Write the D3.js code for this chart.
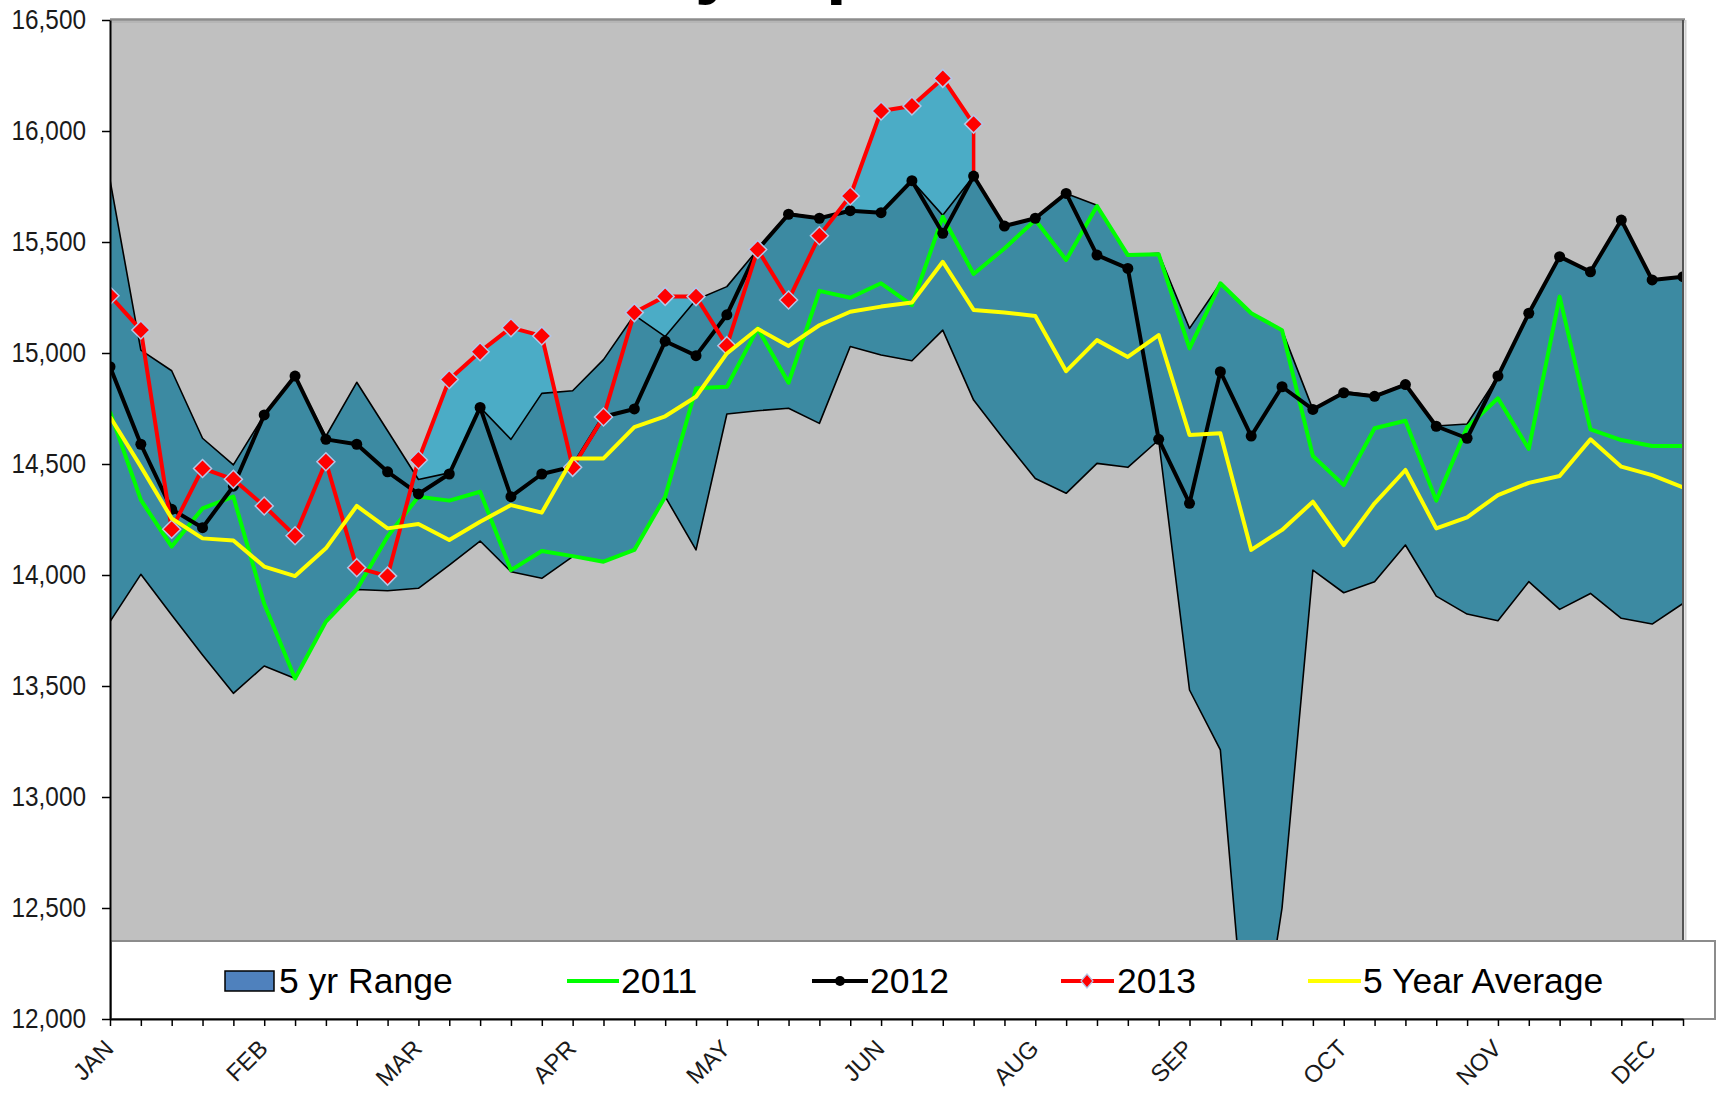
<!DOCTYPE html>
<html>
<head>
<meta charset="utf-8">
<script src="https://cdn.jsdelivr.net/npm/d3@7"></script>
<style>
  html, body { margin: 0; padding: 0; background: #fff; }
  svg { display: block; font-family: "Liberation Sans", Arial, sans-serif; }
</style>
</head>
<body>
<svg id="chart" width="1717" height="1093"></svg>
<script>
// weekly values, 52 weeks (Jan..Dec)
const monthLabels = ["JAN", "FEB", "MAR", "APR", "MAY", "JUN", "AUG", "SEP", "OCT", "NOV", "DEC"];
const monthWeeks = [0, 5, 10, 15, 20, 25, 30, 35, 40, 45, 50];
const yTicks = [12000, 12500, 13000, 13500, 14000, 14500, 15000, 15500, 16000, 16500];

const rangeMax = [15780, 15013, 14920, 14616, 14496, 14721, 14896, 14625, 14868, 14650,
  14430, 14460, 14755, 14611, 14818, 14830, 14970, 15171, 15074, 15240,
  15299, 15466, 15630, 15607, 15641, 15632, 15776, 15620, 15797, 15572,
  15607, 15719, 15665, 15441, 15449, 15111, 15314, 15179, 15103, 14746,
  14826, 14808, 14860, 14671, 14680, 14896, 15179, 15434, 15366, 15599,
  15329, 15344];
const rangeMin = [13790, 14003, 13820, 13640, 13467, 13590, 13534, 13790, 13935, 13929,
  13940, 14045, 14153, 14015, 13985, 14083, 14060, 14113, 14353, 14113,
  14725, 14740, 14751, 14683, 15029, 14991, 14965, 15103, 14788, 14608,
  14435, 14368, 14503, 14485, 14608, 13482, 13212, 11600, 12500, 14022,
  13920, 13970, 14135, 13905, 13824, 13794, 13970, 13845, 13917, 13805,
  13779, 13872];
const y2011 = [14736, 14338, 14128, 14300, 14353, 13870, 13534, 13790, 13935, 14173,
  14353, 14335, 14375, 14022, 14108, 14085, 14060, 14113, 14353, 14841,
  14848, 15111, 14866, 15280, 15249, 15314, 15216, 15614, 15356, 15471,
  15599, 15419, 15662, 15441, 15445, 15021, 15314, 15179, 15103, 14536,
  14405, 14661, 14695, 14335, 14665, 14796, 14568, 15254, 14656, 14608,
  14581, 14581];
const y2012 = [14938, 14589, 14296, 14213, 14400, 14721, 14896, 14611, 14589, 14465,
  14365, 14455, 14755, 14353, 14455, 14488, 14713, 14748, 15053, 14988,
  15172, 15466, 15625, 15607, 15641, 15632, 15776, 15539, 15797, 15572,
  15607, 15719, 15441, 15381, 14611, 14323, 14916, 14626, 14848, 14746,
  14821, 14805, 14858, 14670, 14616, 14896, 15179, 15434, 15366, 15599,
  15329, 15344];
const y2013 = [15258, 15104, 14206, 14480, 14431, 14311, 14177, 14510, 14033, 13995,
  14518, 14881, 15006, 15114, 15077, 14485, 14712, 15182, 15255, 15254,
  15033, 15466, 15239, 15528, 15707, 16090, 16113, 16237, 16031];
const avg5 = [14713, 14488, 14255, 14165, 14155, 14038, 13995, 14120, 14311, 14210,
  14230, 14158, 14240, 14315, 14281, 14525, 14525, 14666, 14715, 14803,
  14998, 15109, 15032, 15125, 15186, 15209, 15227, 15411, 15194, 15182,
  15167, 14918, 15058, 14982, 15081, 14631, 14638, 14113, 14203, 14330,
  14135, 14323, 14473, 14210, 14260, 14360, 14415, 14446, 14611, 14488,
  14450, 14395];

const W = 1717, H = 1093;
const pL = 110, pR = 1683, pT = 20, pB = 1019;

const svg = d3.select("#chart");
svg.append("rect").attr("width", W).attr("height", H).attr("fill", "#fff");

const x = d3.scaleLinear().domain([0, 51]).range([pL, pR]);
const y = d3.scaleLinear().domain([12000, 16500]).range([pB, pT]);

// title sits mostly above the picture, only descenders show (as in the source)
svg.append("text")
  .attr("x", 433)
  .attr("y", -11)
  .attr("font-size", 76)
  .attr("font-weight", "bold")
  .attr("fill", "#000")
  .text("Refinery Inputs");

svg.append("clipPath").attr("id", "plotclip")
  .append("rect")
  .attr("x", pL).attr("y", pT)
  .attr("width", pR - pL).attr("height", pB - pT);

const plot = svg.append("g").attr("clip-path", "url(#plotclip)");

plot.append("rect")
  .attr("x", pL).attr("y", pT)
  .attr("width", pR - pL).attr("height", pB - pT)
  .attr("fill", "#c0c0c0");

// 2013 area (light blue), shows where 2013 is above the range
const area2013 = d3.area()
  .x((d, i) => x(i))
  .y0(y(12000))
  .y1(d => y(d));
plot.append("path")
  .datum(y2013)
  .attr("d", area2013)
  .attr("fill", "#4bacc6");

const last = y2013.length - 1;
plot.append("line")
  .attr("x1", x(last)).attr("x2", x(last))
  .attr("y1", y(y2013[last])).attr("y2", y(12000))
  .attr("stroke", "#ff0000")
  .attr("stroke-width", 3.5);

// mask below the range with the background grey
plot.append("path")
  .datum(rangeMin)
  .attr("d", d3.area().x((d, i) => x(i)).y0(y(11000)).y1(d => y(d)))
  .attr("fill", "#c0c0c0");

// 5 yr range band
const band = d3.area()
  .x((d, i) => x(i))
  .y0((d, i) => y(rangeMin[i]))
  .y1(d => y(d));
plot.append("path")
  .datum(rangeMax)
  .attr("d", band)
  .attr("fill", "#3c8aa2")
  .attr("stroke", "#000")
  .attr("stroke-width", 1.6)
  .attr("stroke-linejoin", "round");

const line = d3.line().x((d, i) => x(i)).y(d => y(d));

plot.append("path").datum(y2011).attr("d", line)
  .attr("fill", "none").attr("stroke", "#00ff00").attr("stroke-width", 4)
  .attr("stroke-linejoin", "round");

plot.append("path").datum(y2012).attr("d", line)
  .attr("fill", "none").attr("stroke", "#000").attr("stroke-width", 4)
  .attr("stroke-linejoin", "round");
plot.selectAll(".dot2012").data(y2012).enter()
  .append("circle")
  .attr("class", "dot2012")
  .attr("cx", (d, i) => x(i))
  .attr("cy", d => y(d))
  .attr("r", 5.5)
  .attr("fill", "#000");

plot.append("path").datum(y2013).attr("d", line)
  .attr("fill", "none").attr("stroke", "#ff0000").attr("stroke-width", 4)
  .attr("stroke-linejoin", "round");

const diamond = "M0,-9L9,0L0,9L-9,0Z";
plot.selectAll(".dot2013").data(y2013).enter()
  .append("path")
  .attr("class", "dot2013")
  .attr("d", diamond)
  .attr("transform", (d, i) => `translate(${x(i)},${y(d)})`)
  .attr("fill", "#ff0000")
  .attr("stroke", "#b4c6e7")
  .attr("stroke-width", 1.5);

plot.append("path").datum(avg5).attr("d", line)
  .attr("fill", "none").attr("stroke", "#ffff00").attr("stroke-width", 4)
  .attr("stroke-linejoin", "round");

// plot frame: top and right
svg.append("line")
  .attr("x1", pL).attr("x2", pR + 2)
  .attr("y1", pT - 0.5).attr("y2", pT - 0.5)
  .attr("stroke", "#8c8c8c").attr("stroke-width", 2.5);
svg.append("line")
  .attr("x1", pL).attr("x2", pR + 2)
  .attr("y1", pT + 2).attr("y2", pT + 2)
  .attr("stroke", "#aaaaaa").attr("stroke-width", 1);
svg.append("line")
  .attr("x1", pR).attr("x2", pR)
  .attr("y1", pT).attr("y2", pB)
  .attr("stroke", "#555").attr("stroke-width", 2);
svg.append("line")
  .attr("x1", pR + 2.5).attr("x2", pR + 2.5)
  .attr("y1", pT).attr("y2", pB)
  .attr("stroke", "#d0d0d0").attr("stroke-width", 2);

// legend
const lg = svg.append("g").attr("font-size", 35.5).attr("fill", "#000");
lg.append("rect")
  .attr("x", pL + 1).attr("y", 941)
  .attr("width", 1715 - pL - 1).attr("height", pB - 941)
  .attr("fill", "#fff")
  .attr("stroke", "#8c8c8c")
  .attr("stroke-width", 2);
const ly = 981, lbase = 993;
lg.append("rect")
  .attr("x", 225).attr("y", 971).attr("width", 49).attr("height", 20)
  .attr("fill", "#4f81bd").attr("stroke", "#000").attr("stroke-width", 1.5);
lg.append("text").attr("x", 279).attr("y", lbase).text("5 yr Range");

lg.append("line").attr("x1", 567).attr("x2", 619).attr("y1", ly).attr("y2", ly)
  .attr("stroke", "#00ff00").attr("stroke-width", 4);
lg.append("text").attr("x", 621).attr("y", lbase).text("2011");

lg.append("line").attr("x1", 812).attr("x2", 868).attr("y1", ly).attr("y2", ly)
  .attr("stroke", "#000").attr("stroke-width", 4);
lg.append("circle").attr("cx", 840).attr("cy", ly).attr("r", 5).attr("fill", "#000");
lg.append("text").attr("x", 870).attr("y", lbase).text("2012");

lg.append("line").attr("x1", 1061).attr("x2", 1114).attr("y1", ly).attr("y2", ly)
  .attr("stroke", "#ff0000").attr("stroke-width", 4);
lg.append("path").attr("d", "M0,-7L6,0L0,7L-6,0Z")
  .attr("transform", `translate(1087,${ly})`)
  .attr("fill", "#ff0000").attr("stroke", "#b4c6e7").attr("stroke-width", 1.2);
lg.append("text").attr("x", 1117).attr("y", lbase).text("2013");

lg.append("line").attr("x1", 1308).attr("x2", 1361).attr("y1", ly).attr("y2", ly)
  .attr("stroke", "#ffff00").attr("stroke-width", 4);
lg.append("text").attr("x", 1363).attr("y", lbase).text("5 Year Average");

// y axis
const yAxis = svg.append("g")
  .attr("transform", `translate(${pL},0)`)
  .call(d3.axisLeft(y).tickValues(yTicks).tickFormat(d3.format(",")).tickSize(8).tickSizeOuter(0));
yAxis.select(".domain").attr("stroke", "#000").attr("stroke-width", 2);
yAxis.selectAll(".tick line").attr("stroke", "#000").attr("stroke-width", 1.5);
yAxis.selectAll(".tick text")
  .attr("x", 0)
  .attr("transform", "translate(-24,0) scale(0.87,1)")
  .attr("font-size", 28)
  .attr("font-family", "Liberation Sans, Arial, sans-serif")
  .attr("fill", "#1a1a1a");

// x axis: a tick every week, labels every fifth week
const xAxis = svg.append("g")
  .attr("transform", `translate(0,${pB})`)
  .call(d3.axisBottom(x).tickValues(d3.range(52)).tickFormat("").tickSize(7).tickSizeOuter(0));
xAxis.select(".domain").attr("stroke", "#000").attr("stroke-width", 2);
xAxis.selectAll(".tick line").attr("stroke", "#000").attr("stroke-width", 1.5);

svg.append("g").selectAll("text")
  .data(monthLabels)
  .enter()
  .append("text")
  .attr("transform", (d, i) => `translate(${x(monthWeeks[i]) + 5},${pB + 31}) rotate(-45)`)
  .attr("text-anchor", "end")
  .attr("font-size", 24)
  .attr("fill", "#1a1a1a")
  .text(d => d);
</script>
</body>
</html>
